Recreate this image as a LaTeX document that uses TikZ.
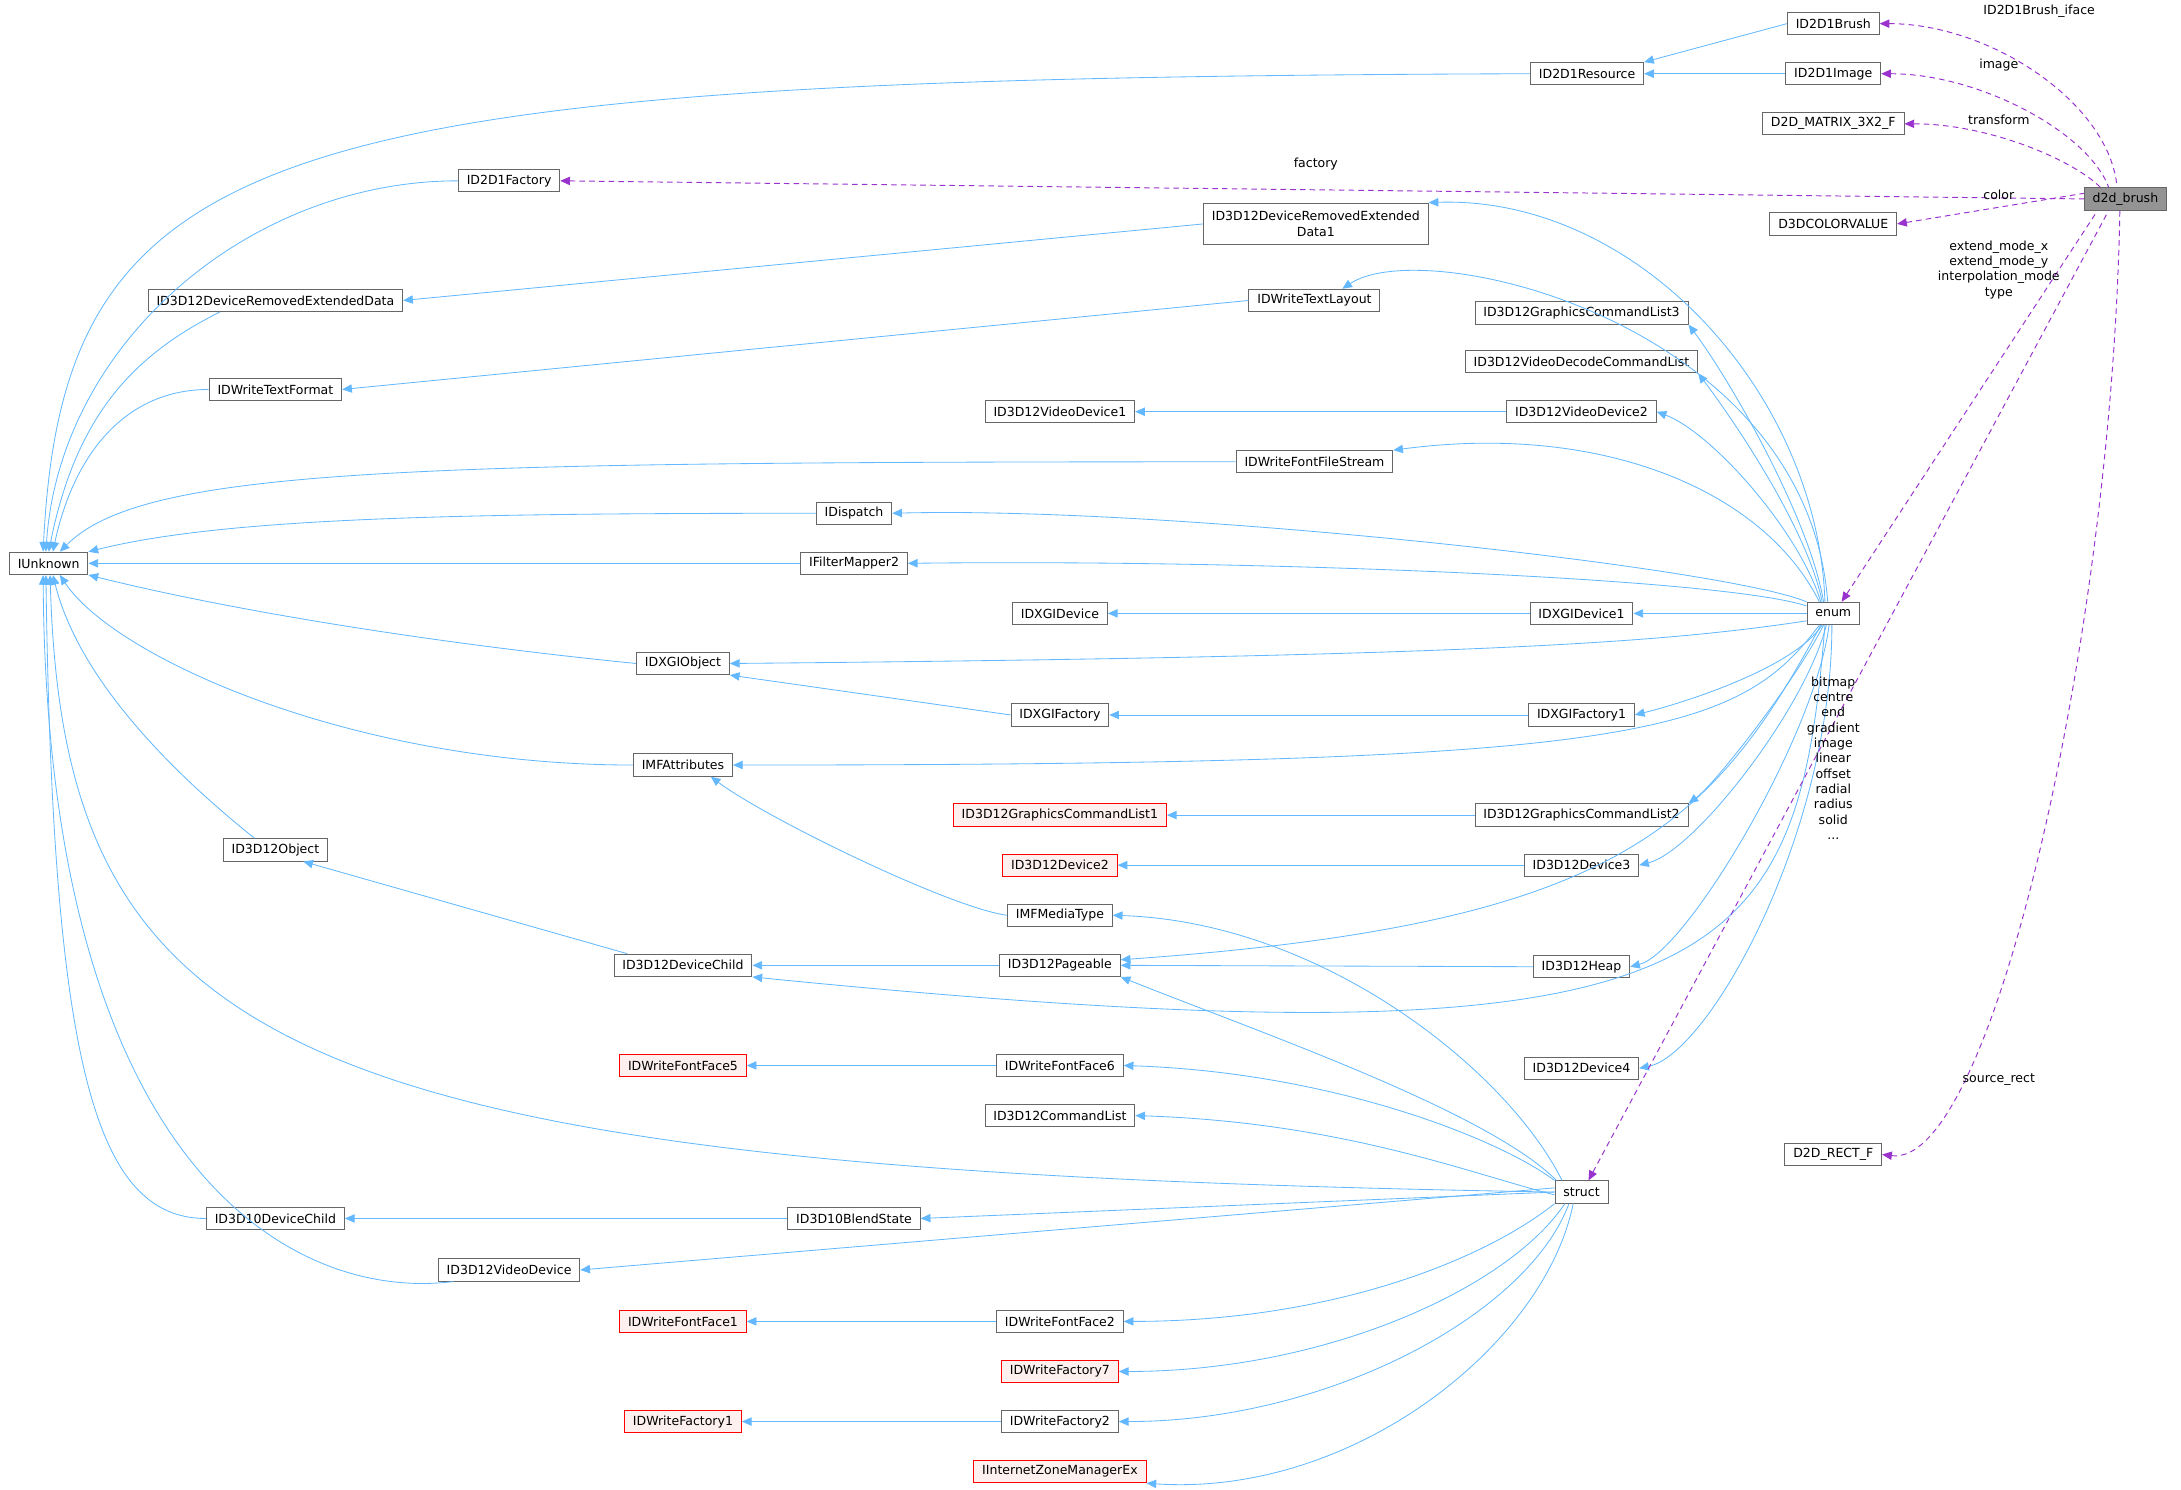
\documentclass[tikz,border=0pt]{standalone}
\usepackage{fontspec}
\setmainfont{DejaVu Sans}
\usetikzlibrary{arrows.meta}
\definecolor{eb}{HTML}{63B8FF}
\definecolor{ep}{HTML}{9A32CD}
\definecolor{nb}{HTML}{666666}
\begin{document}
\begin{tikzpicture}[x=1pt,y=-1pt,
  n/.style={draw=nb,fill=white,inner xsep=6pt,inner ysep=0pt,minimum height=16pt,font=\fontsize{9}{11}\selectfont,line width=0.7pt},
  r/.style={n,draw=red,fill=red!6},
  inh/.style={draw=eb,line width=0.6pt,{Triangle[length=7pt,width=6pt]}-},
  mem/.style={draw=ep,line width=0.7pt,dash pattern=on 4pt off 3pt,{Triangle[length=7pt,width=6pt]}-},
  lb/.style={font=\fontsize{9}{11}\selectfont,align=center,inner sep=0pt}]
\useasboundingbox (0,0) rectangle (1568,1071);
\node[n] (IU) at (35,405) {IUnknown};
\node[n] (Res) at (1141,53) {ID2D1Resource};
\node[n] (Brush) at (1318,17) {ID2D1Brush};
\node[n] (Img) at (1318,53) {ID2D1Image};
\node[n] (Mat) at (1318,89) {D2D\_MATRIX\_3X2\_F};
\node[n,fill=nb!70] (d2d) at (1528,143) {d2d\_brush};
\node[n] (Col) at (1318,161) {D3DCOLORVALUE};
\node[n] (Fac) at (366,130) {ID2D1Factory};
\node[n,align=center,minimum height=30pt] (DRED1) at (946,161) {ID3D12DeviceRemovedExtended\\Data1};
\node[n] (DRED) at (198,216) {ID3D12DeviceRemovedExtendedData};
\node[n] (TL) at (945,216) {IDWriteTextLayout};
\node[n] (GCL3) at (1137,225) {ID3D12GraphicsCommandList3};
\node[n] (TF) at (198,280) {IDWriteTextFormat};
\node[n] (VDCL) at (1137,260) {ID3D12VideoDecodeCommandList};
\node[n] (VD1) at (762,296) {ID3D12VideoDevice1};
\node[n] (VD2) at (1137,296) {ID3D12VideoDevice2};
\node[n] (FFS) at (945,332) {IDWriteFontFileStream};
\node[n] (Disp) at (614,369) {IDispatch};
\node[n] (IFM) at (614,405) {IFilterMapper2};
\node[n] (enum) at (1318,441) {enum};
\node[n] (XD) at (762,441) {IDXGIDevice};
\node[n] (XD1) at (1137,441) {IDXGIDevice1};
\node[n] (XO) at (491,477) {IDXGIObject};
\node[n] (XF) at (762,514) {IDXGIFactory};
\node[n] (XF1) at (1137,514) {IDXGIFactory1};
\node[n] (MFA) at (491,550) {IMFAttributes};
\node[r] (GCL1) at (762,586) {ID3D12GraphicsCommandList1};
\node[n] (GCL2) at (1137,586) {ID3D12GraphicsCommandList2};
\node[n] (Obj) at (198,611) {ID3D12Object};
\node[r] (Dev2) at (762,622) {ID3D12Device2};
\node[n] (Dev3) at (1137,622) {ID3D12Device3};
\node[n] (MFT) at (762,658) {IMFMediaType};
\node[n] (DC) at (491,694) {ID3D12DeviceChild};
\node[n] (Pg) at (762,694) {ID3D12Pageable};
\node[n] (Heap) at (1137,695) {ID3D12Heap};
\node[r] (FF5) at (491,766) {IDWriteFontFace5};
\node[n] (FF6) at (762,766) {IDWriteFontFace6};
\node[n] (Dev4) at (1137,768) {ID3D12Device4};
\node[n] (CL) at (762,802) {ID3D12CommandList};
\node[n] (struct) at (1137,857) {struct};
\node[n] (Rect) at (1318,830) {D2D\_RECT\_F};
\node[n] (DC10) at (198,876) {ID3D10DeviceChild};
\node[n] (BS) at (614,876) {ID3D10BlendState};
\node[n] (VD) at (366,913) {ID3D12VideoDevice};
\node[r] (FF1) at (491,950) {IDWriteFontFace1};
\node[n] (FF2) at (762,950) {IDWriteFontFace2};
\node[r] (F7) at (762,986) {IDWriteFactory7};
\node[r] (F1) at (491,1022) {IDWriteFactory1};
\node[n] (F2) at (762,1022) {IDWriteFactory2};
\node[r] (IZM) at (762,1058) {IInternetZoneManagerEx};
% IUnknown children
\draw[inh] ([xshift=-4pt]IU.north) .. controls +(15,-300) and +(-900,3) .. (Res.west);
\draw[inh] ([xshift=-2pt]IU.north) .. controls +(10,-150) and +(-150,0) .. (Fac.west);
\draw[inh] (IU.north) .. controls +(20,-100) and +(-60,30) .. ([xshift=-40pt]DRED.south);
\draw[inh] ([xshift=3pt]IU.north) .. controls +(15,-70) and +(-60,0) .. (TF.west);
\draw[inh] ([xshift=8pt]IU.north) .. controls +(60,-60) and +(-600,0) .. (FFS.west);
\draw[inh] (IU.north east) .. controls +(100,-25) and +(-250,0) .. (Disp.west);
\draw[inh] (IU.east) -- (IFM.west);
\draw[inh] (IU.south east) .. controls +(100,25) and +(-150,-15) .. (XO.west);
\draw[inh] ([xshift=8pt]IU.south) .. controls +(40,60) and +(-200,0) .. (MFA.west);
\draw[inh] ([xshift=3pt]IU.south) .. controls +(20,80) and +(-50,-40) .. ([xshift=-15pt]Obj.north);
\draw[inh] ([xshift=1pt]IU.south) .. controls +(10,350) and +(-900,-15) .. (struct.west);
\draw[inh] ([xshift=-2pt]IU.south) .. controls +(5,350) and +(-80,0) .. (DC10.west);
\draw[inh] ([xshift=-4pt]IU.south) .. controls +(3,420) and +(-120,15) .. ([xshift=-40pt]VD.south);
% others
\draw[inh] (Res.north east) -- (Brush.west);
\draw[inh] (Res.east) -- (Img.west);
\draw[inh] (DRED.east) -- (DRED1.west);
\draw[inh] (TF.east) -- (TL.west);
\draw[inh] (VD1.east) -- (VD2.west);
\draw[inh] (XD.east) -- (XD1.west);
\draw[inh] (XF.east) -- (XF1.west);
\draw[inh] (XO.south east) -- (XF.west);
\draw[inh] (GCL1.east) -- (GCL2.west);
\draw[inh] (Dev2.east) -- (Dev3.west);
\draw[inh] ([xshift=20pt]MFA.south) .. controls +(40,30) and +(-40,-5) .. (MFT.west);
\draw[inh] ([xshift=20pt]Obj.south) -- ([xshift=-40pt]DC.north);
\draw[inh] (DC.east) -- (Pg.west);
\draw[inh] (Pg.east) -- (Heap.west);
\draw[inh] (FF5.east) -- (FF6.west);
\draw[inh] (DC10.east) -- (BS.west);
\draw[inh] (FF1.east) -- (FF2.west);
\draw[inh] (F1.east) -- (F2.west);
% enum edges
\draw[inh] (DRED1.north east) .. controls +(150,-5) and +(-5,-150) .. ([xshift=-6pt]enum.north);
\draw[inh] ([xshift=20pt]TL.north) .. controls +(60,-40) and +(-15,-200) .. ([xshift=-4pt]enum.north);
\draw[inh] (GCL3.south east) .. controls +(30,40) and +(-10,-60) .. ([xshift=-7pt]enum.north);
\draw[inh] (VDCL.south east) .. controls +(30,40) and +(-10,-50) .. ([xshift=-8pt]enum.north);
\draw[inh] (VD2.east) .. controls +(40,15) and +(-15,-50) .. ([xshift=-9pt]enum.north);
\draw[inh] (FFS.north east) .. controls +(150,-20) and +(-40,-80) .. ([xshift=-10pt]enum.north);
\draw[inh] (Disp.east) .. controls +(200,-5) and +(-60,-25) .. (enum.north west);
\draw[inh] (IFM.east) .. controls +(250,-3) and +(-60,-20) .. ([yshift=-3pt]enum.north west);
\draw[inh] (XD1.east) -- (enum.west);
\draw[inh] (XO.east) .. controls +(550,-5) and +(-100,15) .. ([yshift=3pt]enum.south west);
\draw[inh] (XF1.east) .. controls +(40,-10) and +(-20,30) .. ([xshift=-8pt]enum.south);
\draw[inh] (MFA.east) .. controls +(650,0) and +(-60,80) .. ([xshift=-10pt]enum.south);
\draw[inh] (GCL2.north east) .. controls +(20,-15) and +(-20,40) .. ([xshift=-7pt]enum.south);
\draw[inh] (Dev3.east) .. controls +(40,-10) and +(-15,60) .. ([xshift=-5pt]enum.south);
\draw[inh] ([yshift=4pt]Pg.east) .. controls +(350,-25) and +(-80,150) .. ([xshift=-9pt]enum.south);
\draw[inh] (Heap.east) .. controls +(40,-10) and +(-10,80) .. ([xshift=-3pt]enum.south);
\draw[inh] (DC.south east) .. controls +(700,70) and +(-20,250) .. ([xshift=-6pt]enum.south);
\draw[inh] (Dev4.east) .. controls +(50,-10) and +(0,150) .. ([xshift=-1pt]enum.south);
% struct edges
\draw[inh] (MFT.east) .. controls +(150,5) and +(-40,-80) .. ([xshift=-14pt]struct.north);
\draw[inh] (Pg.south east) .. controls +(100,40) and +(-50,-50) .. ([xshift=-18pt]struct.north);
\draw[inh] (FF6.east) .. controls +(150,5) and +(-40,-30) .. (struct.north west);
\draw[inh] (CL.east) .. controls +(150,5) and +(-60,-15) .. ([yshift=-2pt]struct.west);
\draw[inh] (BS.east) -- (struct.west);
\draw[inh] (VD.east) -- ([yshift=3pt]struct.west);
\draw[inh] (FF2.east) .. controls +(150,0) and +(-50,40) .. (struct.south west);
\draw[inh] (F7.east) .. controls +(150,0) and +(-40,60) .. ([xshift=-12pt]struct.south);
\draw[inh] (F2.east) .. controls +(150,0) and +(-30,80) .. ([xshift=-9pt]struct.south);
\draw[inh] (IZM.south east) .. controls +(150,10) and +(-20,100) .. ([xshift=-6pt]struct.south);
% member edges
\draw[mem] (Brush.east) .. controls +(80,0) and +(-5,-60) .. ([xshift=-6pt]d2d.north);
\draw[mem] (Img.east) .. controls +(70,0) and +(-15,-40) .. ([xshift=-12pt]d2d.north);
\draw[mem] (Mat.east) .. controls +(60,0) and +(-20,-20) .. ([xshift=-18pt]d2d.north);
\draw[mem] (Fac.east) -- (d2d.west);
\draw[mem] (Col.east) -- ([yshift=4pt]d2d.west);
\draw[mem] ([xshift=6pt]enum.north) -- ([xshift=-20pt]d2d.south);
\draw[mem] ([xshift=5pt]struct.north) -- ([xshift=-12pt]d2d.south);
\draw[mem] (Rect.east) .. controls +(80,10) and +(-5,300) .. ([xshift=-4pt]d2d.south);
% labels
\node[lb] (l1) at (1466,8) {ID2D1Brush\_iface};
\node[lb] (l2) at (1437,47) {image};
\node[lb] (l3) at (1437,86) {transform};
\node[lb] (l4) at (946,118) {factory};
\node[lb] (l5) at (1437,140) {color};
\node[lb] (l6) at (1437,194) {extend\_mode\_x\\extend\_mode\_y\\interpolation\_mode\\type};
\node[lb] (l7) at (1318,545) {bitmap\\centre\\end\\gradient\\image\\linear\\offset\\radial\\radius\\solid\\...};
\node[lb] (l8) at (1437,776) {source\_rect};
\end{tikzpicture}
\end{document}
